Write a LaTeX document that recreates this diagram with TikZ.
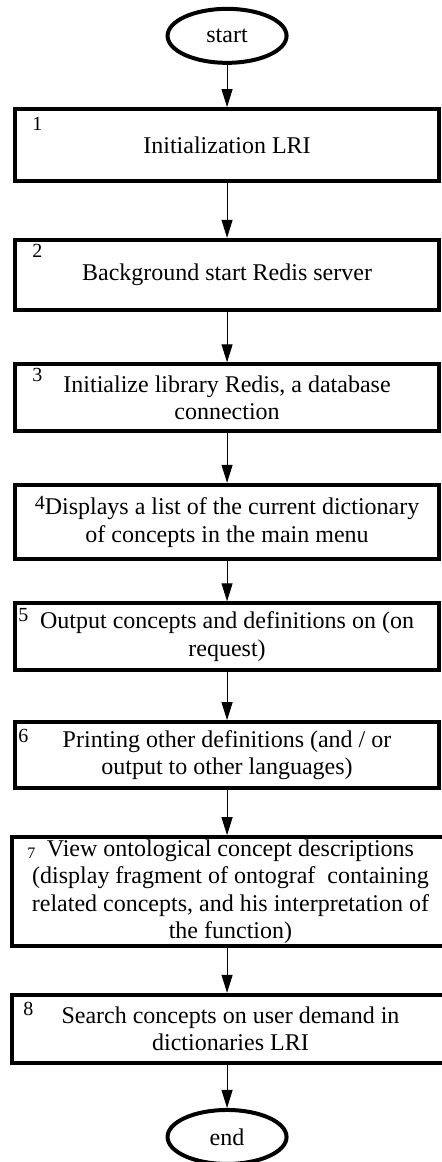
\documentclass[tikz,border=0pt]{standalone}
\usepackage{fontspec}
\setmainfont{Liberation Serif}
\usetikzlibrary{positioning, arrows.meta, shapes.geometric}

\begin{document}
\begin{tikzpicture}[
    block/.style={rectangle, draw, line width=2pt, minimum width=212pt, inner ysep=0pt, align=center, font=\fontsize{12}{13.8}\selectfont},
    terminal/.style={ellipse, draw, line width=2pt, minimum width=59.5pt, minimum height=27pt, inner sep=0pt, font=\fontsize{12}{13.8}\selectfont},
    num/.style={inner sep=0pt, font=\fontsize{10}{10}\selectfont},
    flow/.style={-{Triangle[width=5.5pt, length=9pt]}, line width=0.5pt}
]
\useasboundingbox (0,0) rectangle (7.75,-20.42);

% Inizio e fine
\node[terminal] (start) at (3.99,-0.63) {start};
\node[terminal] (finish) at (3.99,-19.98) {end};

% Blocchi
\node[block, minimum height=36pt] (b1) at (3.99,-2.55) {Initialization LRI};
\node[block, minimum height=35pt] (b2) at (3.99,-4.83) {Background start Redis server};
\node[block, minimum height=33.5pt] (b3) at (3.99,-6.99) {Initialize library Redis, a database\\connection};
\node[block, minimum height=37pt] (b4) at (3.99,-9.17) {\raisebox{2.5pt}{\fontsize{10}{10}\selectfont 4}Displays a list of the current dictionary\\of concepts in the main menu};
\node[block, minimum height=33.5pt] (b5) at (3.99,-11.19) {Output concepts and definitions on (on\\request)};
\node[block, minimum height=33pt] (b6) at (3.99,-13.27) {Printing other definitions (and / or\\output to other languages)};
\node[block, minimum width=218.5pt, minimum height=54.5pt] (b7) at (4.05,-15.67) {View ontological concept descriptions\\(display fragment of ontograf~ containing\\related concepts, and his interpretation of\\the function)};
\node[block, minimum width=218.5pt, minimum height=34pt] (b8) at (4.05,-18.08) {Search concepts on user demand in\\dictionaries LRI};

% Numeri
\node[num, below right=5pt and 9.5pt of b1.north west] (n1) {1};
\node[num, below right=3pt and 9.5pt of b2.north west] (n2) {2};
\node[num, below right=3pt and 9.5pt of b3.north west] (n3) {3};
\node[num, below right=3.5pt and 2.5pt of b5.north west] (n5) {5};
\node[num, below right=4.5pt and 2.5pt of b6.north west] (n6) {6};
\node[num, font=\fontsize{8}{8}\selectfont, below right=6pt and 8.5pt of b7.north west] (n7) {7};
\node[num, below right=4.5pt and 6.5pt of b8.north west] (n8) {8};

% Frecce
\draw[flow] (start) -- (b1);
\draw[flow] (b1) -- (b2);
\draw[flow] (b2) -- (b3);
\draw[flow] (b3) -- (b4);
\draw[flow] (b4) -- (b5);
\draw[flow] (b5) -- (b6);
\draw[flow] (b6.south) -- (b6.south |- b7.north);
\draw[flow] (b7.south -| start) -- (b8.north -| start);
\draw[flow] (b8.south -| start) -- (finish);

\end{tikzpicture}
\end{document}
